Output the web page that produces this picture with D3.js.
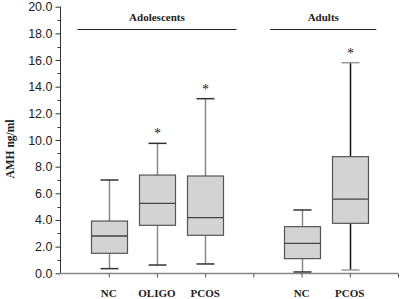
<!DOCTYPE html>
<html><head><meta charset="utf-8">
<script src="https://cdn.jsdelivr.net/npm/d3@7"></script>
<style>body{margin:0;background:#fff}svg{display:block}</style>
</head><body>
<svg id="c" width="400" height="299"></svg>
<script>
const categories = ["NC","OLIGO","PCOS","NC","PCOS"];
const positions = [1,2,3,5,6];
const whiskerLow = [0.35,0.62,0.7,0.1,0.25];
const q1 = [1.5,3.6,2.85,1.1,3.75];
const median = [2.8,5.25,4.17,2.25,5.57];
const q3 = [3.92,7.37,7.3,3.5,8.75];
const whiskerHigh = [7.0,9.75,13.1,4.75,15.8];
const significant = [false,true,true,false,true];
const groups = ["Adolescents","Adults"];
const groupStart = [0.35,4.35];
const groupEnd = [3.65,6.55];
const yTicks = [0,2,4,6,8,10,12,14,16,18,20];

const svg = d3.select("#c");
const x = d3.scaleLinear().domain([0,7]).range([60.5,398]);
const y = d3.scaleLinear().domain([0,20]).range([273.3,6.7]);

// y axis
const yAxis = d3.axisLeft(y).tickValues(yTicks).tickFormat(d3.format(".1f")).tickSize(5).tickPadding(3);
const gy = svg.append("g").attr("transform","translate(60.5,0)").call(yAxis);
gy.select(".domain").attr("stroke","#333").attr("d","M0,"+y(20)+"V"+y(0));
gy.selectAll(".tick line").attr("stroke","#333");
gy.selectAll(".tick text").attr("font-family","Liberation Sans, Arial, sans-serif").attr("font-size",12.5).attr("fill","#222");
// minor ticks
svg.append("g").selectAll("line").data(d3.range(1,20,2)).join("line")
  .attr("x1",57.5).attr("x2",60.5).attr("y1",d=>Math.round(y(d))+0.5).attr("y2",d=>Math.round(y(d))+0.5)
  .attr("stroke","#333");

// x axis
const xAxis = d3.axisBottom(x).tickValues([1,2,3,4,5,6,7]).tickFormat("").tickSize(4);
const gx = svg.append("g").attr("transform","translate(0,273.5)").call(xAxis);
gx.select(".domain").attr("stroke","#888").attr("stroke-width",1.5).attr("d","M60.5,0H398");
gx.selectAll(".tick line").attr("stroke","#555");

// x labels
svg.append("g").selectAll("text").data(categories).join("text")
  .attr("x",(d,i)=>x(positions[i])).attr("y",297)
  .attr("text-anchor","middle").attr("font-family","Liberation Serif, Times New Roman, serif")
  .attr("font-weight","bold").attr("font-size",11).attr("fill","#222").text(d=>d);

// y label
svg.append("text").attr("transform","translate(14,149) rotate(-90)")
  .attr("text-anchor","middle").attr("font-family","Liberation Serif, Times New Roman, serif")
  .attr("font-weight","bold").attr("font-size",11.5).attr("fill","#222").text("AMH ng/ml");

// group lines
groups.forEach((g,i)=>{
  const x1=x(groupStart[i]), x2=x(groupEnd[i]);
  svg.append("line").attr("x1",x1).attr("x2",x2).attr("y1",29.5).attr("y2",29.5).attr("stroke","#222").attr("stroke-width",1.2);
  svg.append("text").attr("x",(x1+x2)/2).attr("y",21).attr("text-anchor","middle")
    .attr("font-family","Liberation Serif, Times New Roman, serif").attr("font-weight","bold")
    .attr("font-size",11).attr("fill","#222").text(g);
});

// boxes
const bw = 36, cw = 18;
positions.forEach((p,i)=>{
  const cx = Math.round(x(p))+0.5;
  const adultP = i===4;
  const stemCol = adultP ? "#111" : "#888";
  const capCol = adultP ? "#999" : "#333";
  svg.append("line").attr("x1",cx).attr("x2",cx).attr("y1",y(whiskerHigh[i])).attr("y2",y(q3[i])).attr("stroke",stemCol).attr("stroke-width",1.5);
  svg.append("line").attr("x1",cx).attr("x2",cx).attr("y1",y(q1[i])).attr("y2",y(whiskerLow[i])).attr("stroke",stemCol).attr("stroke-width",1.5);
  [whiskerHigh[i],whiskerLow[i]].forEach(v=>{
    svg.append("line").attr("x1",cx-cw/2).attr("x2",cx+cw/2).attr("y1",y(v)).attr("y2",y(v)).attr("stroke",capCol).attr("stroke-width",1.5);
  });
  svg.append("rect").attr("x",cx-bw/2).attr("width",bw).attr("y",y(q3[i])).attr("height",y(q1[i])-y(q3[i]))
    .attr("fill","#d3d3d3").attr("stroke","#555").attr("stroke-width",1.2);
  svg.append("line").attr("x1",cx-bw/2).attr("x2",cx+bw/2).attr("y1",y(median[i])).attr("y2",y(median[i])).attr("stroke","#444").attr("stroke-width",1.3);
  if(significant[i]){
    svg.append("text").attr("x",cx).attr("y",y(whiskerHigh[i])-5).attr("text-anchor","middle")
      .attr("font-family","Liberation Serif, Times New Roman, serif").attr("font-size",14).attr("fill","#222").text("*");
  }
});
</script>
</body></html>
